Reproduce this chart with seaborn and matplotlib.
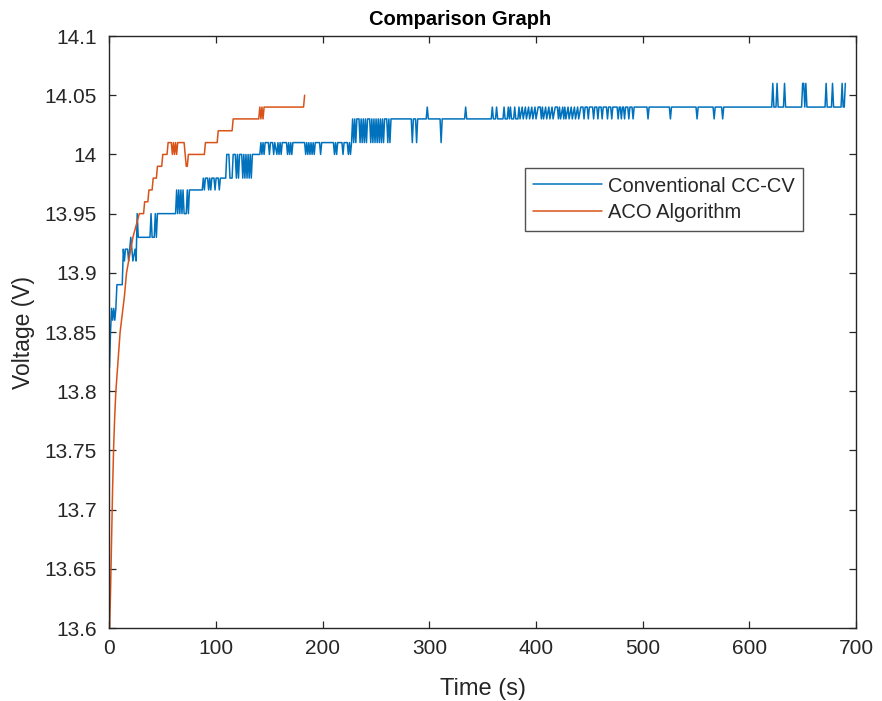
import numpy as np
import pandas as pd
import matplotlib
matplotlib.use("Agg")
import matplotlib.pyplot as plt
from matplotlib.ticker import FormatStrFormatter
import seaborn as sns

# ─── Data ────────────────────────────────────────────────────────────────
# Conventional CC-CV: time (s) / voltage (V) vertices
cc_time = [0, 1, 2, 3, 4, 5, 6, 7, 12, 13, 14, 15, 17, 18, 19, 20, 21, 22, 24, 25,
           26, 27, 38, 39, 40, 42, 43, 44, 45, 62, 63, 64, 65, 66, 67, 68, 69, 70, 72, 73,
           74, 75, 87, 88, 89, 90, 92, 93, 94, 95, 96, 98, 99, 100, 102, 103, 104, 109, 110, 112,
           113, 115, 116, 118, 119, 120, 121, 122, 124, 125, 126, 127, 128, 129, 130, 131, 132, 133, 134, 141,
           142, 143, 144, 145, 146, 149, 150, 151, 153, 154, 155, 157, 158, 159, 160, 161, 162, 166, 167, 168,
           169, 170, 171, 172, 183, 184, 185, 186, 187, 188, 189, 190, 191, 192, 193, 197, 198, 199, 210, 211,
           212, 213, 214, 218, 219, 220, 223, 224, 225, 226, 227, 228, 229, 230, 231, 232, 234, 235, 236, 237,
           238, 239, 240, 241, 242, 244, 245, 246, 247, 248, 249, 250, 251, 252, 253, 254, 255, 256, 257, 258,
           260, 261, 262, 263, 264, 283, 284, 285, 287, 288, 289, 297, 298, 299, 310, 311, 312, 333, 334, 335,
           358, 359, 360, 362, 363, 364, 369, 370, 371, 373, 374, 375, 376, 377, 379, 380, 381, 383, 384, 385,
           387, 388, 390, 391, 393, 394, 396, 397, 399, 400, 402, 404, 405, 406, 407, 409, 410, 412, 413, 415,
           416, 418, 420, 421, 422, 423, 425, 426, 427, 428, 430, 431, 433, 434, 436, 437, 439, 440, 442, 444,
           445, 446, 448, 449, 450, 453, 454, 455, 457, 458, 459, 461, 462, 463, 466, 467, 468, 470, 471, 472,
           476, 477, 478, 479, 480, 481, 482, 483, 484, 486, 487, 488, 490, 491, 492, 504, 505, 506, 525, 526,
           527, 550, 551, 552, 566, 567, 568, 574, 575, 576, 621, 622, 623, 625, 626, 627, 632, 633, 634, 649,
           650, 651, 652, 653, 654, 671, 672, 673, 677, 678, 679, 686, 687, 688, 689, 690]
cc_volt = [13.82, 13.85, 13.87, 13.86, 13.87, 13.86, 13.87, 13.89, 13.89, 13.92, 13.91, 13.92, 13.92, 13.91, 13.92, 13.93, 13.92, 13.91, 13.92, 13.91,
           13.95, 13.93, 13.93, 13.95, 13.93, 13.93, 13.95, 13.93, 13.95, 13.95, 13.97, 13.95, 13.97, 13.95, 13.97, 13.95, 13.97, 13.95, 13.95, 13.97,
           13.95, 13.97, 13.97, 13.98, 13.97, 13.98, 13.98, 13.97, 13.98, 13.97, 13.98, 13.98, 13.97, 13.98, 13.98, 13.97, 13.98, 13.98, 14.00, 14.00,
           13.98, 13.98, 14.00, 14.00, 13.98, 14.00, 13.98, 14.00, 14.00, 13.98, 14.00, 13.98, 14.00, 13.98, 14.00, 13.98, 14.00, 13.98, 14.00, 14.00,
           14.01, 14.00, 14.01, 14.00, 14.01, 14.01, 14.00, 14.01, 14.01, 14.00, 14.01, 14.00, 14.01, 14.00, 14.01, 14.00, 14.01, 14.01, 14.00, 14.01,
           14.00, 14.01, 14.00, 14.01, 14.01, 14.00, 14.01, 14.00, 14.01, 14.00, 14.01, 14.00, 14.01, 14.00, 14.01, 14.01, 14.00, 14.01, 14.01, 14.00,
           14.01, 14.00, 14.01, 14.01, 14.00, 14.01, 14.01, 14.00, 14.01, 14.00, 14.01, 14.03, 14.01, 14.03, 14.01, 14.03, 14.03, 14.01, 14.03, 14.01,
           14.03, 14.01, 14.03, 14.01, 14.03, 14.03, 14.01, 14.03, 14.01, 14.03, 14.01, 14.03, 14.01, 14.03, 14.01, 14.03, 14.01, 14.03, 14.01, 14.03,
           14.03, 14.01, 14.03, 14.01, 14.03, 14.03, 14.01, 14.03, 14.03, 14.01, 14.03, 14.03, 14.04, 14.03, 14.03, 14.01, 14.03, 14.03, 14.04, 14.03,
           14.03, 14.04, 14.03, 14.03, 14.04, 14.03, 14.03, 14.04, 14.03, 14.03, 14.04, 14.03, 14.04, 14.03, 14.03, 14.04, 14.03, 14.03, 14.04, 14.03,
           14.04, 14.03, 14.04, 14.03, 14.04, 14.03, 14.04, 14.03, 14.04, 14.03, 14.04, 14.04, 14.03, 14.04, 14.03, 14.04, 14.03, 14.04, 14.03, 14.04,
           14.03, 14.04, 14.04, 14.03, 14.04, 14.03, 14.04, 14.03, 14.04, 14.03, 14.04, 14.03, 14.04, 14.03, 14.04, 14.03, 14.04, 14.03, 14.04, 14.04,
           14.03, 14.04, 14.04, 14.03, 14.04, 14.04, 14.03, 14.04, 14.04, 14.03, 14.04, 14.04, 14.03, 14.04, 14.04, 14.03, 14.04, 14.04, 14.03, 14.04,
           14.04, 14.03, 14.04, 14.04, 14.03, 14.04, 14.04, 14.03, 14.04, 14.04, 14.03, 14.04, 14.04, 14.03, 14.04, 14.04, 14.03, 14.04, 14.04, 14.03,
           14.04, 14.04, 14.03, 14.04, 14.04, 14.03, 14.04, 14.04, 14.03, 14.04, 14.04, 14.06, 14.04, 14.04, 14.06, 14.04, 14.04, 14.06, 14.04, 14.04,
           14.06, 14.06, 14.04, 14.06, 14.04, 14.04, 14.06, 14.04, 14.04, 14.06, 14.04, 14.04, 14.06, 14.04, 14.04, 14.06]

# ACO Algorithm: time (s) / voltage (V) vertices
aco_time = [0, 1, 2, 3, 4, 5, 6, 8, 10, 12, 14, 16, 19, 22, 25, 28, 32, 33, 36, 37,
            40, 41, 44, 45, 49, 50, 54, 55, 58, 59, 60, 61, 62, 63, 64, 70, 71, 72, 73, 74,
            89, 90, 101, 102, 115, 116, 140, 141, 142, 143, 144, 145, 182, 183]
aco_volt = [13.595, 13.63, 13.675, 13.72, 13.755, 13.78, 13.80, 13.825, 13.85, 13.865, 13.88, 13.90, 13.915, 13.93, 13.94, 13.95, 13.95, 13.96, 13.96, 13.97,
            13.97, 13.98, 13.98, 13.99, 13.99, 14.00, 14.00, 14.01, 14.01, 14.00, 14.01, 14.00, 14.01, 14.00, 14.01, 14.01, 14.00, 13.99, 13.99, 14.00,
            14.00, 14.01, 14.01, 14.02, 14.02, 14.03, 14.03, 14.04, 14.03, 14.04, 14.03, 14.04, 14.04, 14.05]

series_names = ["Conventional CC-CV", "ACO Algorithm"]
series_colors = ["#0072BD", "#D95319"]
x_ticks = [0, 100, 200, 300, 400, 500, 600, 700]
y_ticks = [13.6, 13.65, 13.7, 13.75, 13.8, 13.85, 13.9, 13.95, 14.0, 14.05, 14.1]

# ─── Style ────────────────────────────────────────────────────────────────
sns.set_theme(style="white")
plt.rcParams["font.family"] = ["Liberation Sans", "DejaVu Sans"]
axis_col = "#262626"

df = pd.concat([
    pd.DataFrame({"Time": cc_time, "Voltage": cc_volt, "Series": series_names[0]}),
    pd.DataFrame({"Time": aco_time, "Voltage": aco_volt, "Series": series_names[1]}),
], ignore_index=True)

fig = plt.figure(figsize=(8.82, 7.01), dpi=100)
ax = fig.add_axes([0.1241, 0.1041, 0.9705 - 0.1241, 0.9486 - 0.1041])

sns.lineplot(data=df, x="Time", y="Voltage", hue="Series", hue_order=series_names,
             palette=series_colors, estimator=None, sort=False, linewidth=1.1, ax=ax)

ax.set_xlim(0, 700)
ax.set_ylim(13.6, 14.1)
ax.set_xticks(x_ticks)
ax.set_yticks(y_ticks)
ax.yaxis.set_major_formatter(FormatStrFormatter("%g"))

for side in ["top", "right", "bottom", "left"]:
    ax.spines[side].set_visible(True)
    ax.spines[side].set_color(axis_col)
    ax.spines[side].set_linewidth(1.0)

ax.tick_params(axis="both", which="major", direction="in", length=5, width=0.9,
               color=axis_col, labelcolor=axis_col, labelsize=15,
               top=True, right=True, bottom=True, left=True)
ax.tick_params(axis="y", pad=9)
ax.tick_params(axis="x", pad=8)

ax.set_xlabel("Time (s)", fontsize=17, color=axis_col, labelpad=14)
ax.set_ylabel("Voltage (V)", fontsize=16.5, color=axis_col, labelpad=7)
ax.set_title("Comparison Graph", fontsize=14.5, fontweight="bold", color="black",
             pad=8, x=0.47)

handles, labels = ax.get_legend_handles_labels()
leg = ax.legend(handles, labels, loc="upper left", bbox_to_anchor=(0.5566, 0.777),
                borderaxespad=0, fontsize=14.5, frameon=True, fancybox=False,
                handlelength=3.4, handletextpad=0.3, labelspacing=0.38,
                borderpad=0.42)
leg.get_frame().set_edgecolor(axis_col)
leg.get_frame().set_linewidth(1.0)
for t in leg.get_texts():
    t.set_color(axis_col)

fig.savefig("out.png", dpi=100, facecolor="white")
